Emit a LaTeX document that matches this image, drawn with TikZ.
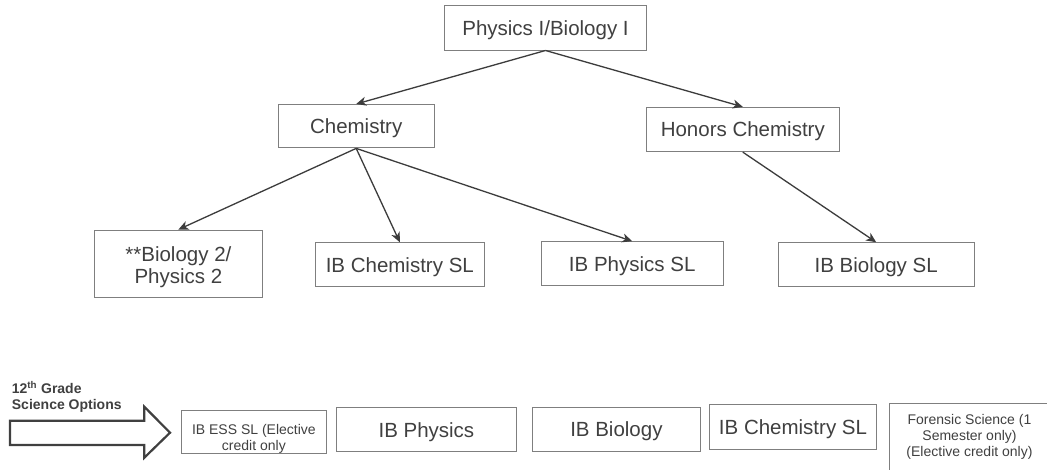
\documentclass[tikz,border=0pt]{standalone}
\usepackage{fontspec}
\setmainfont{Liberation Sans}
\usetikzlibrary{arrows.meta}
\definecolor{txtgray}{HTML}{404040}
\definecolor{boxgray}{HTML}{7F7F7F}
\definecolor{arrgray}{HTML}{3C3C3C}
\begin{document}
\begin{tikzpicture}[x=1pt,y=-1pt,
  course/.style={draw=boxgray,line width=0.9pt,fill=white,text=txtgray,inner sep=0pt,align=center,
    font=\fontsize{20.5}{22}\selectfont},
  one/.style={course,text height=15pt,text depth=0pt},
  smallcourse/.style={course,font=\fontsize{14}{16}\selectfont},
  link/.style={draw=arrgray,line width=1.3pt,-{Stealth[length=10pt,width=9pt,inset=3pt]}},
  lab/.style={text=txtgray,inner sep=0pt,anchor=base west,font=\fontsize{14}{16}\selectfont\bfseries}
]
\useasboundingbox (0,0) rectangle (1047,470);
\fill[white] (0,0) rectangle (1047,470);
\begin{scope}
\clip (0,0) rectangle (1047,470);
% tree
\node[one,minimum width=202.4pt,minimum height=44.7pt] (top) at (545.5,27.7) {Physics I/Biology I};
\node[one,minimum width=156.5pt,minimum height=43.5pt] (chem) at (356.2,126.2) {Chemistry};
\node[one,minimum width=192.3pt,minimum height=44.4pt] (hon) at (742.8,129.5) {Honors Chemistry};
\node[course,minimum width=168.7pt,minimum height=67pt] (bio2) at (178.4,263.5) {\rule{0pt}{23pt}**Biology 2/\\Physics 2};
\node[one,minimum width=168.3pt,minimum height=44pt] (ibc) at (399.8,264.7) {IB Chemistry SL};
\node[one,minimum width=182.3pt,minimum height=44.3pt] (ibp) at (632.2,263.8) {IB Physics SL};
\node[one,minimum width=195.7pt,minimum height=44pt] (ibb) at (876.2,264.7) {IB Biology SL};
\draw[link] (top.south) -- (chem.north);
\draw[link] (top.south) -- (hon.north);
\draw[link] (chem.south) -- (bio2.north);
\draw[link] (chem.south) -- (ibc.north);
\draw[link] (chem.south) -- (ibp.north);
\draw[link] (hon.south) -- (ibb.north);
% 12th grade options
\node[lab] (lab1) at (11.7,393.3) {12\textsuperscript{th} Grade};
\node[lab] (lab2) at (11.7,409.3) {Science Options};
\draw[draw=txtgray,line width=2.2pt,line join=miter,fill=white]
  (10,420.7) -- (144.3,420.7) -- (144.3,406.7) -- (170,432.7) -- (144.3,457.7) -- (144.3,445) -- (10,445) -- cycle;
\node[smallcourse,minimum width=145.7pt,minimum height=42.8pt] (ess) at (253.9,431.9) {\rule{0pt}{24pt}IB ESS SL (Elective\\credit only};
\node[one,minimum width=179.3pt,minimum height=44pt] (ibphys) at (426.4,429.7) {IB Physics};
\node[one,minimum width=167.3pt,minimum height=43.7pt] (ibbio) at (616.4,429.2) {IB Biology};
\node[one,minimum width=167.4pt,minimum height=44.7pt] (ibchem) at (793,426.7) {IB Chemistry SL};
\node[smallcourse,minimum width=161pt,minimum height=68pt] (for) at (969.5,437) {Forensic Science (1\\Semester only)\\(Elective credit only)};
\end{scope}
\end{tikzpicture}
\end{document}
